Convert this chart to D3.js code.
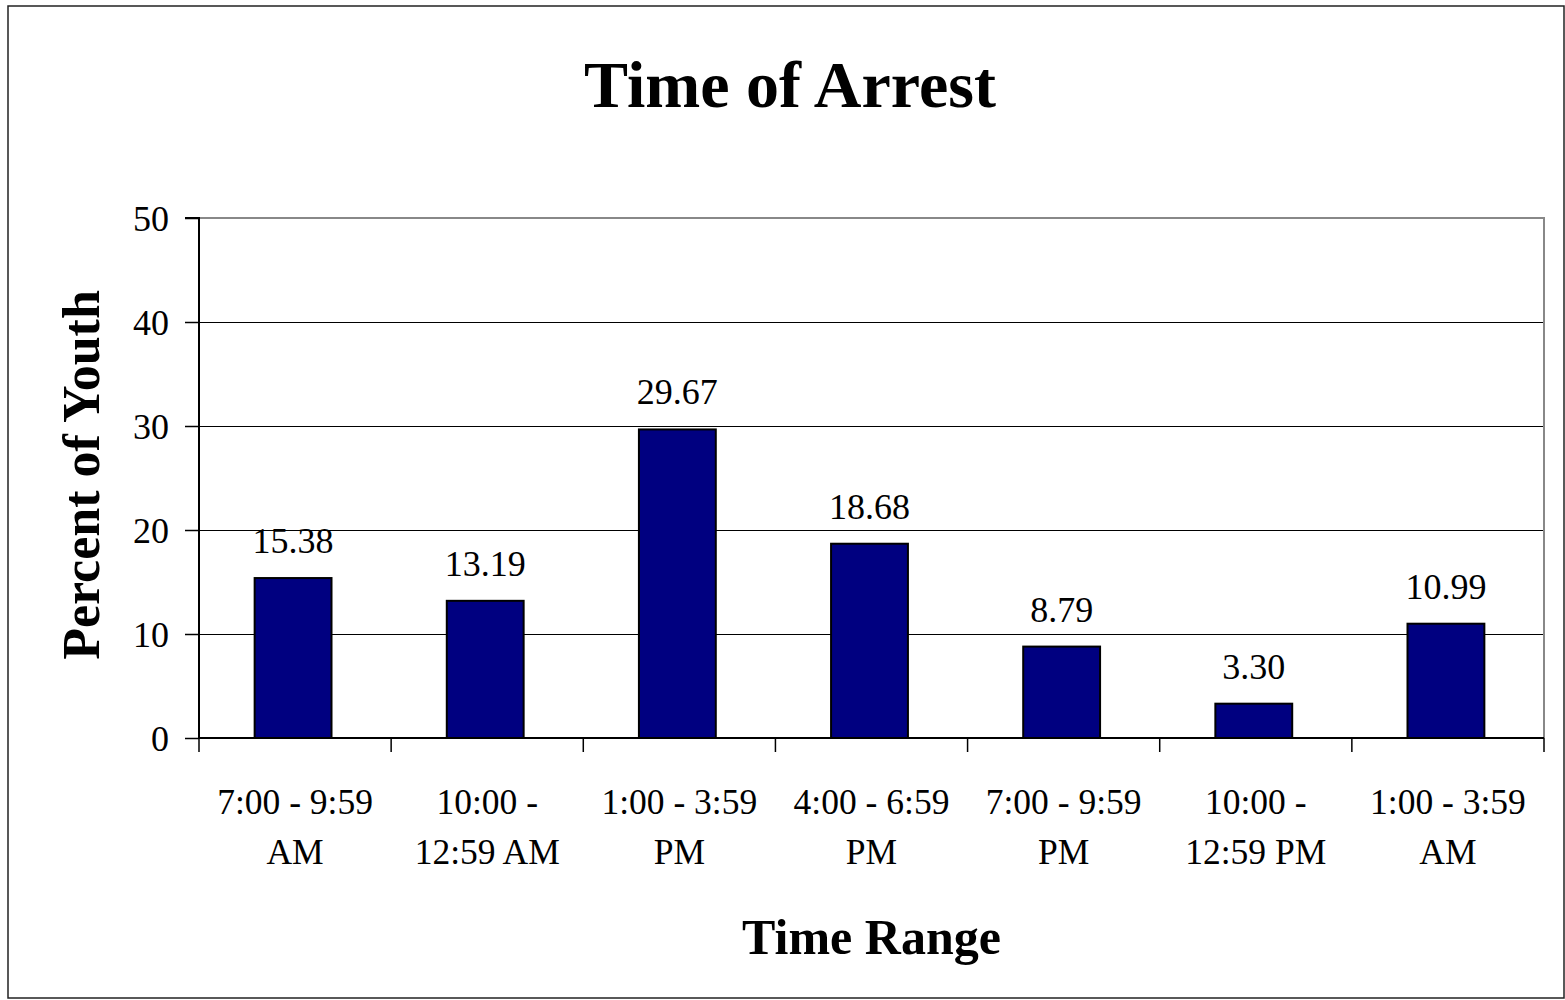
<!DOCTYPE html>
<html>
<head>
<meta charset="utf-8">
<script src="https://cdn.jsdelivr.net/npm/d3@7"></script>
<style>
html,body{margin:0;padding:0;background:#fff;}
svg{display:block;}
text{font-family:"Liberation Serif","Times New Roman",serif;fill:#000;}
</style>
</head>
<body>
<svg id="chart" width="1565" height="1000"></svg>
<script>
const categories = [
  ["7:00 - 9:59", "AM"],
  ["10:00 -", "12:59 AM"],
  ["1:00 - 3:59", "PM"],
  ["4:00 - 6:59", "PM"],
  ["7:00 - 9:59", "PM"],
  ["10:00 -", "12:59 PM"],
  ["1:00 - 3:59", "AM"]
];
const values = [15.38, 13.19, 29.67, 18.68, 8.79, 3.30, 10.99];
const yTicks = [0, 10, 20, 30, 40, 50];
const chartTitle = "Time of Arrest";
const xTitle = "Time Range";
const yTitle = "Percent of Youth";

const svg = d3.select("#chart");
const m = {left: 199, right: 1544, top: 218, bottom: 738};

// outer border
svg.append("rect").attr("x", 8).attr("y", 6).attr("width", 1556).attr("height", 992)
  .attr("fill", "#fff").attr("stroke", "#222").attr("stroke-width", 1.5);

const keys = categories.map((d, i) => i);
const x = d3.scaleBand().domain(keys).range([m.left, m.right]).paddingInner(0).paddingOuter(0);
const y = d3.scaleLinear().domain([0, 50]).range([m.bottom, m.top]);

// gridlines
svg.append("g").selectAll("line").data(yTicks.filter(t => t > 0 && t < 50)).join("line")
  .attr("x1", m.left).attr("x2", m.right)
  .attr("y1", d => Math.round(y(d)) + 0.5).attr("y2", d => Math.round(y(d)) + 0.5)
  .attr("stroke", "#000").attr("stroke-width", 1);

// plot area top/right border (gray)
svg.append("path")
  .attr("d", `M${m.left},${m.top}H${m.right}V${m.bottom}`)
  .attr("fill", "none").attr("stroke", "#888").attr("stroke-width", 2);

// bars
const bw = x.bandwidth() * 0.4;
svg.append("g").selectAll("rect").data(values).join("rect")
  .attr("x", (d, i) => x(i) + x.bandwidth() / 2 - bw / 2 - 2)
  .attr("y", d => y(d))
  .attr("width", bw)
  .attr("height", d => y(0) - y(d))
  .attr("fill", "#000080").attr("stroke", "#000").attr("stroke-width", 2);

// data labels
svg.append("g").selectAll("text").data(values).join("text")
  .attr("x", (d, i) => x(i) + x.bandwidth() / 2 - 2)
  .attr("y", d => y(d) - 25)
  .attr("text-anchor", "middle")
  .attr("font-size", 36)
  .text(d => d.toFixed(2));

// y axis
const yAxis = d3.axisLeft(y).tickValues(yTicks).tickSize(14).tickPadding(16).tickFormat(d3.format("d"));
const gy = svg.append("g").attr("transform", `translate(${m.left},0)`).call(yAxis);
gy.select(".domain").attr("stroke", "#000").attr("stroke-width", 2).attr("d", `M-14,${m.top}H0V${m.bottom}`);
gy.selectAll(".tick line").attr("stroke", "#000").attr("stroke-width", 1.5);
gy.selectAll(".tick text").attr("font-size", 36).attr("font-family", "Liberation Serif").attr("dy", "0.34em");

// x axis (ticks at category boundaries)
const xb = d3.range(categories.length + 1).map(i => m.left + i * x.bandwidth());
svg.append("line").attr("x1", m.left).attr("x2", m.right).attr("y1", m.bottom).attr("y2", m.bottom)
  .attr("stroke", "#000").attr("stroke-width", 2);
svg.append("g").selectAll("line").data(xb).join("line")
  .attr("x1", d => d).attr("x2", d => d).attr("y1", m.bottom).attr("y2", m.bottom + 14)
  .attr("stroke", "#000").attr("stroke-width", 1.5);

// x labels
const xl = svg.append("g").selectAll("text").data(categories).join("text")
  .attr("text-anchor", "middle").attr("font-size", 35.5);
xl.each(function(d, i) {
  const t = d3.select(this);
  const cx = x(i) + x.bandwidth() / 2;
  t.append("tspan").attr("x", cx).attr("y", 814).text(d[0]);
  t.append("tspan").attr("x", cx).attr("y", 864).text(d[1]);
});

// titles
svg.append("text").attr("x", 790).attr("y", 107).attr("text-anchor", "middle")
  .attr("font-size", 66).attr("font-weight", "bold").text(chartTitle);
svg.append("text").attr("x", (m.left + m.right) / 2).attr("y", 954).attr("text-anchor", "middle")
  .attr("font-size", 50).attr("font-weight", "bold").text(xTitle);
svg.append("text").attr("transform", `translate(99,${(m.top + m.bottom) / 2 - 3}) rotate(-90)`)
  .attr("text-anchor", "middle")
  .attr("font-size", 52).attr("font-weight", "bold").text(yTitle);
</script>
</body>
</html>
